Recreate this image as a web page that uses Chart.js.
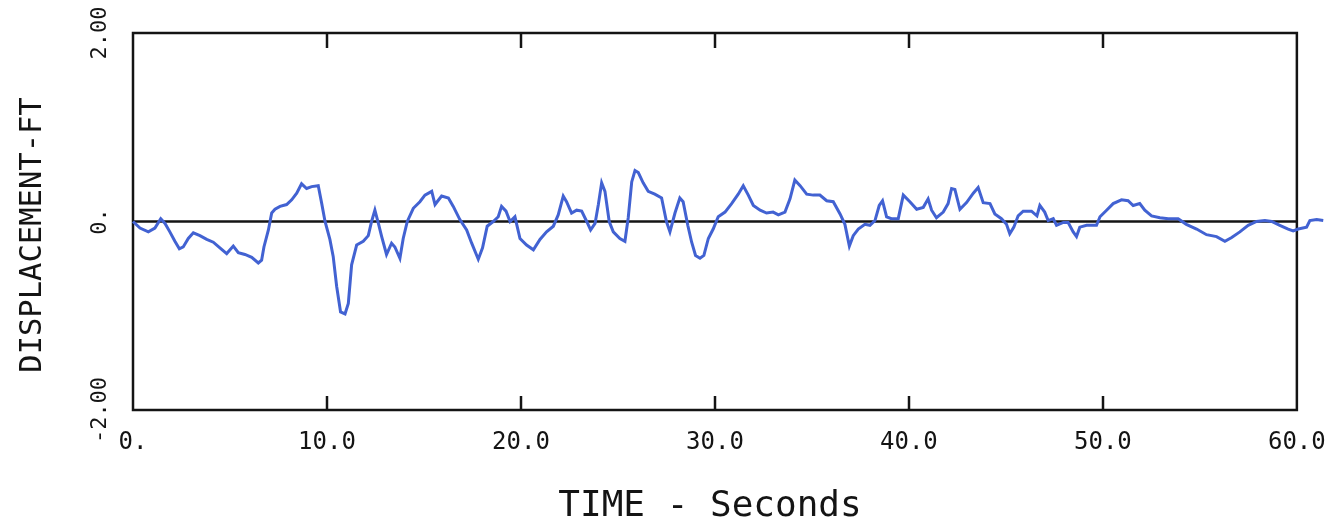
<!DOCTYPE html>
<html>
<head>
<meta charset="utf-8">
<script src="https://cdn.jsdelivr.net/npm/chart.js@4.4.1/dist/chart.umd.min.js"></script>
<style>
  body { margin: 0; background: #fff; }
  canvas { display: block; }
</style>
</head>
<body>
<canvas id="chart" width="1333" height="525"></canvas>
<script>
// time in seconds, displacement in feet
const times = [
  0, 0.36, 0.79, 1.13, 1.43, 1.65, 1.9, 2.16, 2.39, 2.59, 2.85, 3.11, 3.45, 3.8, 4.14, 4.48, 4.83, 5.17, 5.43, 5.77,
  6.12, 6.46, 6.63, 6.75, 6.98, 7.15, 7.32, 7.58, 7.92, 8.18, 8.44, 8.69, 8.95, 9.21, 9.55, 9.72, 9.9, 10.15, 10.32, 10.5,
  10.7, 10.93, 11.1, 11.27, 11.53, 11.87, 12.13, 12.3, 12.47, 12.65, 12.82, 13.07, 13.33, 13.5, 13.76, 13.93, 14.14, 14.45, 14.79, 15.05,
  15.4, 15.57, 15.91, 16.26, 16.51, 16.85, 17.2, 17.46, 17.8, 18.02, 18.26, 18.57, 18.83, 19.0, 19.23, 19.44, 19.69, 19.95, 20.29, 20.64,
  20.98, 21.32, 21.67, 21.92, 22.18, 22.35, 22.61, 22.87, 23.13, 23.39, 23.59, 23.82, 23.99, 24.16, 24.33, 24.55, 24.76, 25.1, 25.36, 25.53,
  25.71, 25.88, 26.05, 26.3, 26.56, 26.9, 27.25, 27.5, 27.68, 27.94, 28.19, 28.36, 28.6, 28.8, 29.0, 29.23, 29.43, 29.66, 29.91, 30.17,
  30.52, 30.86, 31.2, 31.46, 31.72, 31.98, 32.33, 32.66, 33.0, 33.27, 33.61, 33.87, 34.12, 34.39, 34.73, 35.07, 35.41, 35.76, 36.1, 36.45,
  36.7, 36.93, 37.13, 37.39, 37.73, 37.99, 38.25, 38.47, 38.64, 38.85, 39.1, 39.45, 39.71, 40.05, 40.4, 40.74, 40.99, 41.17, 41.42, 41.77,
  42.02, 42.2, 42.37, 42.63, 42.97, 43.32, 43.57, 43.83, 44.18, 44.43, 44.77, 45.03, 45.2, 45.41, 45.63, 45.89, 46.32, 46.6, 46.75, 47.0,
  47.18, 47.44, 47.61, 47.96, 48.21, 48.47, 48.64, 48.81, 49.16, 49.67, 49.85, 50.19, 50.53, 50.96, 51.3, 51.56, 51.9, 52.16, 52.51, 52.94,
  53.37, 53.88, 54.3, 54.83, 55.34, 55.86, 56.29, 56.64, 57.06, 57.49, 57.92, 58.35, 58.7, 59.12, 59.55, 59.81, 60.07, 60.5, 60.67, 61.02,
  61.36
];
const displacement = [
  0, -0.07, -0.11, -0.07, 0.03, -0.02, -0.11, -0.21, -0.29, -0.27, -0.18, -0.12, -0.15, -0.19, -0.22, -0.28, -0.34, -0.26, -0.33, -0.35,
  -0.38, -0.44, -0.41, -0.27, -0.09, 0.09, 0.13, 0.16, 0.18, 0.23, 0.30, 0.40, 0.35, 0.37, 0.38, 0.20, 0, -0.19, -0.37, -0.69,
  -0.96, -0.98, -0.87, -0.46, -0.25, -0.21, -0.15, 0, 0.12, -0.02, -0.16, -0.35, -0.23, -0.27, -0.39, -0.18, 0, 0.14, 0.21, 0.28,
  0.32, 0.18, 0.27, 0.25, 0.16, 0.02, -0.09, -0.23, -0.40, -0.28, -0.05, 0, 0.05, 0.16, 0.11, 0, 0.05, -0.18, -0.25, -0.30,
  -0.19, -0.11, -0.05, 0.07, 0.27, 0.21, 0.09, 0.12, 0.11, 0, -0.09, -0.02, 0.18, 0.41, 0.32, 0, -0.11, -0.18, -0.21, 0.04,
  0.42, 0.54, 0.52, 0.41, 0.32, 0.29, 0.25, 0, -0.11, 0.09, 0.25, 0.21, -0.04, -0.22, -0.36, -0.39, -0.36, -0.18, -0.08, 0.05,
  0.10, 0.19, 0.29, 0.38, 0.28, 0.17, 0.12, 0.09, 0.10, 0.07, 0.10, 0.24, 0.44, 0.38, 0.29, 0.28, 0.28, 0.22, 0.21, 0.08,
  -0.03, -0.26, -0.15, -0.08, -0.03, -0.04, 0.01, 0.17, 0.22, 0.05, 0.03, 0.03, 0.28, 0.21, 0.13, 0.15, 0.24, 0.12, 0.04, 0.10,
  0.19, 0.35, 0.34, 0.13, 0.20, 0.30, 0.36, 0.20, 0.19, 0.08, 0.03, -0.03, -0.13, -0.06, 0.06, 0.11, 0.11, 0.06, 0.17, 0.10,
  0.01, 0.03, -0.04, -0.01, -0.01, -0.11, -0.16, -0.06, -0.04, -0.04, 0.05, 0.12, 0.19, 0.23, 0.22, 0.17, 0.19, 0.12, 0.06, 0.04,
  0.03, 0.03, -0.03, -0.08, -0.14, -0.16, -0.21, -0.17, -0.11, -0.04, 0, 0.01, 0, -0.04, -0.08, -0.10, -0.08, -0.06, 0.01, 0.02,
  0.01
];

const xTicks = [0, 10, 20, 30, 40, 50, 60];
const xTickLabels = ["0.", "10.0", "20.0", "30.0", "40.0", "50.0", "60.0"];
const yTicks = [-2, 0, 2];
const yTickLabels = ["-2.00", "0.", "2.00"];

const frameEnd = 60;      // the box closes at 60 s, the trace runs a bit past it
const xMax = 61.45;

const mono = "'DejaVu Sans Mono', 'Liberation Mono', monospace";
const ink = "#141414";

// box, zero line and the inward tick marks
const framePlugin = {
  id: "frame",
  beforeDatasetsDraw(chart) {
    const { ctx, chartArea, scales } = chart;
    const left = chartArea.left;
    const top = chartArea.top;
    const bottom = chartArea.bottom;
    const right = scales.x.getPixelForValue(frameEnd);
    const y0 = scales.y.getPixelForValue(0);

    ctx.save();
    ctx.strokeStyle = ink;
    ctx.lineWidth = 2.5;
    ctx.beginPath();
    ctx.moveTo(left, y0);
    ctx.lineTo(right, y0);
    ctx.stroke();

    ctx.lineWidth = 2.5;
    xTicks.forEach(v => {
      if (v === 0 || v === frameEnd) return;
      const px = Math.round(scales.x.getPixelForValue(v));
      ctx.beginPath();
      ctx.moveTo(px, bottom);
      ctx.lineTo(px, bottom - 14);
      ctx.stroke();
      ctx.beginPath();
      ctx.moveTo(px, top);
      ctx.lineTo(px, top + 15);
      ctx.stroke();
    });

    ctx.lineWidth = 2.5;
    ctx.strokeRect(left, top, right - left, bottom - top);
    ctx.restore();
  },
  afterDraw(chart) {
    const { ctx } = chart;
    ctx.save();
    ctx.fillStyle = ink;
    ctx.textAlign = "center";
    ctx.textBaseline = "middle";

    ctx.font = "36px " + mono;
    ctx.fillText("TIME - Seconds", 710, 507);

    ctx.translate(33, 235);
    ctx.rotate(-Math.PI / 2);
    ctx.font = "30.5px " + mono;
    ctx.fillText("DISPLACEMENT-FT", 0, 0);
    ctx.restore();
  }
};

new Chart(document.getElementById("chart"), {
  type: "line",
  data: {
    datasets: [{
      data: times.map((t, i) => ({ x: t, y: displacement[i] })),
      borderColor: "#4262d2",
      borderWidth: 3,
      pointRadius: 0,
      tension: 0,
      fill: false,
      clip: false
    }]
  },
  options: {
    responsive: false,
    animation: false,
    layout: { padding: { top: 33, right: 8, left: 0, bottom: 0 } },
    plugins: {
      legend: { display: false },
      tooltip: { enabled: false }
    },
    scales: {
      x: {
        type: "linear",
        min: 0,
        max: xMax,
        grid: { display: false, drawTicks: false },
        border: { display: false },
        afterBuildTicks: axis => { axis.ticks = xTicks.map(v => ({ value: v })); },
        ticks: {
          autoSkip: false,
          maxRotation: 0,
          padding: 18,
          color: ink,
          font: { family: mono, size: 24 },
          callback: v => xTickLabels[xTicks.indexOf(v)]
        },
        afterFit: axis => {
          axis.height = 115;
          axis.paddingLeft = 0;
          axis.paddingRight = 0;
        }
      },
      y: {
        min: -2,
        max: 2,
        grid: { display: false, drawTicks: false },
        border: { display: false },
        afterBuildTicks: axis => { axis.ticks = yTicks.map(v => ({ value: v })); },
        ticks: {
          autoSkip: false,
          minRotation: 90,
          maxRotation: 90,
          crossAlign: "center",
          padding: 0,
          color: ink,
          font: { family: mono, size: 22 },
          callback: v => yTickLabels[yTicks.indexOf(v)]
        },
        afterFit: axis => {
          axis.width = 133;
          axis.paddingTop = 0;
          axis.paddingBottom = 0;
        }
      }
    }
  },
  plugins: [framePlugin]
});
</script>
</body>
</html>
